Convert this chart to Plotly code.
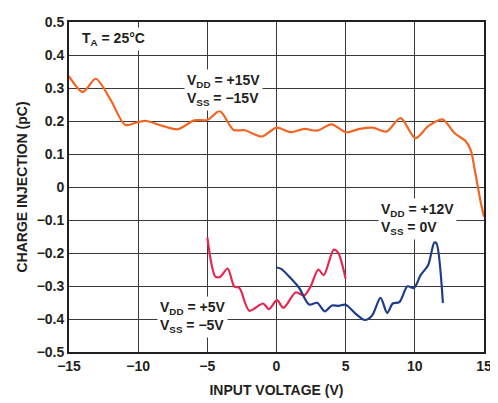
import plotly.graph_objects as go

# VDD=+15V, VSS=-15V
x15 = [-15, -14.0, -13.07, -12.0, -10.93, -10.0, -9.4, -8.3, -7.14, -5.95, -5.0, -4.1, -3.1, -2.3, -1.05, 0.0, 1.03, 2.0, 2.95, 3.97, 5.05, 6.0, 6.95, 7.95, 8.97, 10.04, 10.99, 12.0, 12.88, 13.7, 14.07, 14.3, 14.78, 15.0]
y15 = [0.336, 0.288, 0.328, 0.265, 0.188, 0.197, 0.2, 0.186, 0.175, 0.202, 0.203, 0.23, 0.173, 0.172, 0.153, 0.18, 0.166, 0.176, 0.171, 0.19, 0.166, 0.176, 0.18, 0.168, 0.209, 0.148, 0.185, 0.205, 0.163, 0.138, 0.108, 0.059, -0.05, -0.09]

# VDD=+5V, VSS=-5V
x5 = [-5.0, -4.41, -4.06, -3.53, -3.06, -2.68, -1.96, -0.97, -0.54, 0.03, 0.5, 1.4, 1.99, 2.47, 3.02, 3.42, 4.13, 4.44, 5.0]
y5 = [-0.153, -0.272, -0.272, -0.247, -0.301, -0.306, -0.375, -0.353, -0.37, -0.343, -0.366, -0.319, -0.329, -0.301, -0.25, -0.267, -0.19, -0.198, -0.278]

# VDD=+12V, VSS=0V
x12 = [0.0, 0.33, 0.93, 1.64, 2.35, 2.94, 3.49, 4.01, 4.49, 5.0, 5.67, 6.38, 6.9, 7.52, 8.0, 8.4, 8.88, 9.47, 9.94, 10.42, 10.96, 11.41, 11.56, 12.03]
y12 = [-0.244, -0.248, -0.272, -0.306, -0.356, -0.351, -0.377, -0.359, -0.36, -0.357, -0.382, -0.403, -0.39, -0.336, -0.382, -0.353, -0.349, -0.301, -0.306, -0.267, -0.237, -0.168, -0.17, -0.351]

x_ticks = [-15, -10, -5, 0, 5, 10, 15]
x_labels = ["−15", "−10", "−5", "0", "5", "10", "15"]
y_ticks = [-0.5, -0.4, -0.3, -0.2, -0.1, 0, 0.1, 0.2, 0.3, 0.4, 0.5]
y_labels = ["−0.5", "−0.4", "−0.3", "−0.2", "−0.1", "0", "0.1", "0.2", "0.3", "0.4", "0.5"]

fig = go.Figure()
fig.add_trace(go.Scatter(x=x15, y=y15, mode="lines", line=dict(color="#F26522", width=2.2, shape="spline", smoothing=0.8)))
fig.add_trace(go.Scatter(x=x5, y=y5, mode="lines", line=dict(color="#E6264F", width=2.2, shape="spline", smoothing=0.8)))
fig.add_trace(go.Scatter(x=x12, y=y12, mode="lines", line=dict(color="#1E3C8A", width=2.2, shape="spline", smoothing=0.8)))

afont = dict(family="Liberation Sans", size=14, color="#231F20", weight="bold")
anns = [
    dict(x=-14.25, y=0.448, xanchor="left", text="T<sub>A</sub> = 25°C"),
    dict(x=-3.86, y=0.294, xanchor="center", text="V<sub>DD</sub> = +15V<br>V<sub>SS</sub> = −15V"),
    dict(x=10.2, y=-0.096, xanchor="center", text="V<sub>DD</sub> = +12V<br>V<sub>SS</sub> = 0V"),
    dict(x=-6.04, y=-0.393, xanchor="center", text="V<sub>DD</sub> = +5V<br>V<sub>SS</sub> = −5V"),
]
for a in anns:
    fig.add_annotation(**a, xref="x", yref="y", showarrow=False, align="left",
                       bgcolor="white", borderpad=2, font=afont)

tfont = dict(family="Liberation Sans", size=14, color="#231F20", weight="bold")
fig.update_xaxes(range=[-15, 15], tickmode="array", tickvals=x_ticks, ticktext=x_labels,
                 showgrid=True, gridcolor="#3a3a3a", gridwidth=1.2,
                 showline=True, linecolor="#231F20", linewidth=1.8, mirror=True, zeroline=False,
                 ticks="", tickfont=tfont, ticklabeloverflow="allow",
                 title=dict(text="INPUT VOLTAGE (V)", font=tfont, standoff=12))
fig.update_yaxes(range=[-0.5, 0.5], tickmode="array", tickvals=y_ticks, ticktext=y_labels,
                 showgrid=True, gridcolor="#3a3a3a", gridwidth=1.2,
                 showline=True, linecolor="#231F20", linewidth=1.8, mirror=True, zeroline=False,
                 ticks="", tickfont=tfont, ticklabeloverflow="allow",
                 title=dict(text="CHARGE INJECTION (pC)", font=tfont, standoff=6))

fig.update_layout(width=490, height=395, margin=dict(l=61, r=7, t=6, b=51),
                  plot_bgcolor="white", paper_bgcolor="white", showlegend=False)
fig.write_html("out.html")
